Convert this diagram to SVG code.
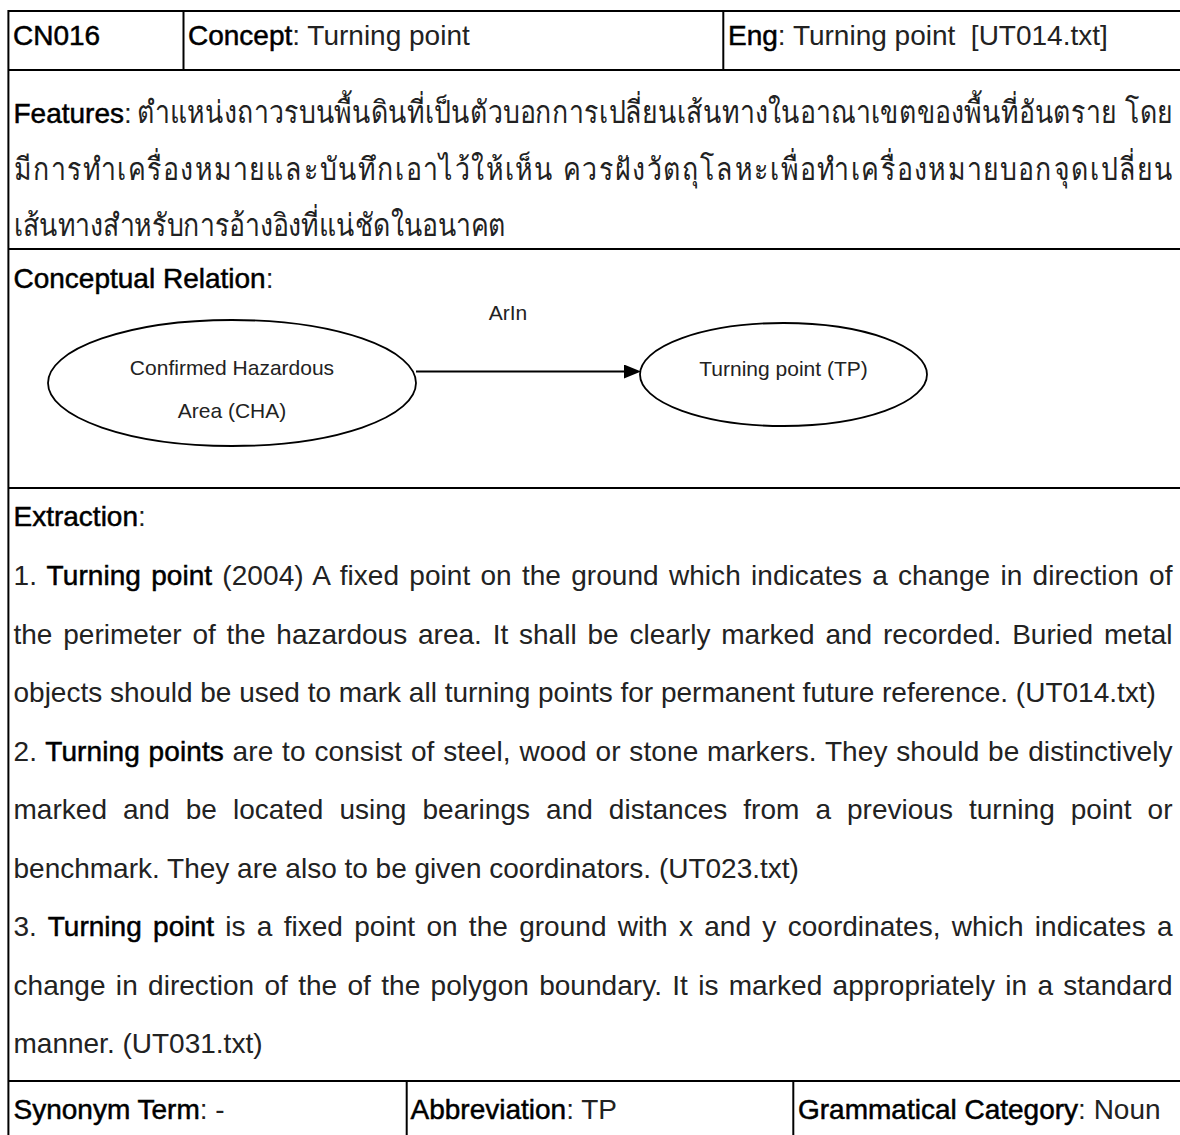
<svg xmlns="http://www.w3.org/2000/svg" width="1180" height="1135" viewBox="0 0 1180 1135">
  <style>
    text { font-family: "Liberation Sans", Arial, sans-serif; font-size: 28px; fill: #222; }
    .th { font-size: 31px; }
    .b { fill: #000; stroke: #000; stroke-width: 0.5; }
    .grid { stroke: #000; stroke-width: 2; fill: none; }
    .node { fill: #fff; stroke: #000; stroke-width: 1.8; }
    .lbl { font-size: 21px; fill: #222; text-anchor: middle; }
    .edge { stroke: #000; stroke-width: 2; fill: none; }
  </style>
  <defs>
    <marker id="arrow" markerUnits="userSpaceOnUse" markerWidth="17" markerHeight="14" refX="2" refY="7" orient="auto">
      <path d="M0,0 L17,7 L0,14 z" fill="#000"/>
    </marker>
  </defs>

  <rect width="1180" height="1135" fill="#fff"/>

  <!-- table rules -->
  <g id="table" class="grid">
    <line x1="8.4" y1="11" x2="1180" y2="11"/>
    <line x1="8.4" y1="70" x2="1180" y2="70"/>
    <line x1="8.4" y1="249" x2="1180" y2="249"/>
    <line x1="8.4" y1="488" x2="1180" y2="488"/>
    <line x1="8.4" y1="1081" x2="1180" y2="1081"/>
    <line x1="8.4" y1="10" x2="8.4" y2="1135"/>
    <line x1="183.5" y1="11" x2="183.5" y2="70"/>
    <line x1="723.3" y1="11" x2="723.3" y2="70"/>
    <line x1="406.7" y1="1081" x2="406.7" y2="1135"/>
    <line x1="793.3" y1="1081" x2="793.3" y2="1135"/>
  </g>

  <!-- header row -->
  <g id="header">
    <text x="13" y="45" class="b">CN016</text>
    <text x="188" y="45"><tspan class="b">Concept</tspan>: Turning point</text>
    <text x="728" y="45"><tspan class="b">Eng</tspan>: Turning point <tspan dx="7.8">[UT014.txt]</tspan></text>
  </g>

  <!-- features: Thai lines use a narrowed face (scale 0.86), first two lines justified -->
  <g id="features">
    <text x="13.5" y="123"><tspan class="b">Features</tspan>:</text>
    <text class="th" transform="translate(137 123) scale(0.86 1)" x="0" y="0" textLength="1204.7" lengthAdjust="spacing">ตำแหน่งถาวรบนพื้นดินที่เป็นตัวบอกการเปลี่ยนเส้นทางในอาณาเขตของพื้นที่อันตราย โดย</text>
    <text class="th" transform="translate(13.5 179.5) scale(0.86 1)" x="0" y="0" textLength="1347.7" lengthAdjust="spacing">มีการทำเครื่องหมายและบันทึกเอาไว้ให้เห็น ควรฝังวัตถุโลหะเพื่อทำเครื่องหมายบอกจุดเปลี่ยน</text>
    <text class="th" transform="translate(13.5 236) scale(0.86 1)" x="0" y="0">เส้นทางสำหรับการอ้างอิงที่แน่ชัดในอนาคต</text>
  </g>

  <!-- conceptual relation -->
  <text x="13.5" y="288"><tspan class="b">Conceptual Relation</tspan>:</text>

  <g id="connectors">
    <line class="edge" x1="416" y1="371.5" x2="626" y2="371.5" marker-end="url(#arrow)"/>
    <text class="lbl" x="508" y="320">ArIn</text>
  </g>

  <g id="node-cha">
    <ellipse class="node" cx="232" cy="383" rx="184" ry="63"/>
    <text class="lbl" x="232" y="375">Confirmed Hazardous</text>
    <text class="lbl" x="232" y="418">Area (CHA)</text>
  </g>

  <g id="node-tp">
    <ellipse class="node" cx="783.5" cy="374.5" rx="143.5" ry="51.5"/>
    <text class="lbl" x="783.5" y="376">Turning point (TP)</text>
  </g>

  <!-- extraction -->
  <g id="extraction">
    <text x="13.5" y="526"><tspan class="b">Extraction</tspan>:</text>
    <text x="13.5" y="585" word-spacing="2.3" textLength="1159" lengthAdjust="spacing">1. <tspan class="b">Turning point</tspan> (2004) A fixed point on the ground which indicates a change in direction of</text>
    <text x="13.5" y="643.5" word-spacing="3" textLength="1159" lengthAdjust="spacing">the perimeter of the hazardous area. It shall be clearly marked and recorded. Buried metal</text>
    <text x="13.5" y="702">objects should be used to mark all turning points for permanent future reference. (UT014.txt)</text>
    <text x="13.5" y="760.5" word-spacing="0.85" textLength="1159" lengthAdjust="spacing">2. <tspan class="b">Turning points</tspan> are to consist of steel, wood or stone markers. They should be distinctively</text>
    <text x="13.5" y="819" word-spacing="8.2" textLength="1159" lengthAdjust="spacing">marked and be located using bearings and distances from a previous turning point or</text>
    <text x="13.5" y="877.5">benchmark. They are also to be given coordinators. (UT023.txt)</text>
    <text x="13.5" y="936" word-spacing="3.45" textLength="1159" lengthAdjust="spacing">3. <tspan class="b">Turning point</tspan> is a fixed point on the ground with x and y coordinates, which indicates a</text>
    <text x="13.5" y="994.5" word-spacing="2.46" textLength="1159" lengthAdjust="spacing">change in direction of the of the polygon boundary. It is marked appropriately in a standard</text>
    <text x="13.5" y="1053">manner. (UT031.txt)</text>
  </g>

  <!-- footer row -->
  <g id="footer">
    <text x="13.5" y="1119"><tspan class="b">Synonym Term</tspan>: -</text>
    <text x="410.5" y="1119"><tspan class="b">Abbreviation</tspan>: TP</text>
    <text x="798" y="1119"><tspan class="b">Grammatical Category</tspan>: Noun</text>
  </g>
</svg>
